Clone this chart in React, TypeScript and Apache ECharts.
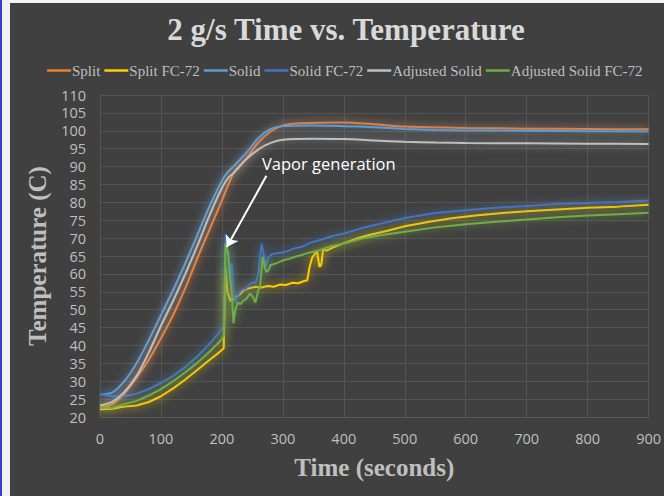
import React, { useEffect, useRef } from "react";
import * as echarts from "echarts";

const seriesNames = ["Split", "Split FC-72", "Solid", "Solid FC-72", "Adjusted Solid", "Adjusted Solid FC-72"];
const seriesColors = ["#ED7D31", "#FFCC00", "#5B9BD5", "#4472C4", "#BFBFBF", "#70AD47"];

const split: number[][] = [
  [0, 22.5], [20, 23.5], [40, 26.5], [60, 31], [80, 36], [100, 42], [120, 48.5], [140, 56], [160, 64.5],
  [180, 72.5], [200, 80.5], [220, 88.5], [240, 92.3], [260, 96.8], [280, 99.8], [300, 101.5], [330, 102.1],
  [400, 102.3], [450, 101.8], [500, 101.2], [600, 100.8], [700, 100.6], [800, 100.5], [900, 100.4],
];

const splitFC72: number[][] = [
  [0, 22.2], [20, 22.3], [40, 22.9], [60, 23.2], [80, 24.2], [100, 25.8], [120, 28], [140, 30.5], [160, 33.2],
  [180, 36], [195, 38], [203, 39.2], [206, 62], [209, 55], [214, 52.5], [218, 52.8], [222, 53.5], [228, 54],
  [236, 55.5], [245, 56], [255, 56.4], [265, 56.2], [275, 56.6], [285, 56.4], [295, 57], [305, 56.9],
  [315, 57.5], [325, 57.4], [335, 58], [340, 58.2], [344, 62], [348, 64.5], [352, 65.5], [356, 66.3],
  [360, 62], [363, 62.5], [366, 66.8], [372, 66.5], [380, 67.2], [390, 67.9], [400, 68.6], [420, 69.8],
  [440, 70.8], [470, 72], [500, 73.3], [540, 74.6], [580, 75.6], [620, 76.4], [660, 77], [700, 77.5],
  [750, 78], [800, 78.5], [850, 78.8], [900, 79.3],
];

const solid: number[][] = [
  [0, 26.3], [20, 26.8], [40, 30], [60, 35], [80, 41.5], [100, 48.5], [120, 55.5], [140, 63], [160, 71],
  [180, 79], [200, 86], [210, 88.5], [220, 90.2], [240, 93.8], [260, 98], [280, 100.5], [300, 101.3],
  [350, 101.5], [400, 101.3], [450, 101], [500, 100.5], [550, 100.2], [600, 100.1], [700, 100], [800, 99.9],
  [900, 99.8],
];

const solidFC72: number[][] = [
  [0, 26.3], [20, 25.8], [40, 25.8], [60, 26.5], [80, 27.8], [100, 29.5], [120, 31.5], [140, 34], [160, 37],
  [180, 40.5], [195, 43.5], [203, 45.5], [206, 71], [210, 65], [213, 58], [216, 63], [219, 55], [222, 52],
  [226, 54], [232, 55.5], [240, 56], [248, 57.5], [255, 57.5], [260, 60], [265, 68.5], [268, 66], [272, 62],
  [276, 64.5], [282, 65.5], [290, 65.8], [300, 66], [310, 66.5], [320, 67.2], [330, 67.5], [340, 68.3],
  [350, 69], [360, 69.4], [380, 70.5], [400, 71.3], [430, 72.8], [460, 74], [500, 75.6], [550, 77],
  [600, 77.8], [650, 78.5], [700, 79], [750, 79.5], [800, 79.8], [850, 80.1], [900, 80.5],
];

const adjustedSolid: number[][] = [
  [0, 23.2], [20, 24.2], [40, 27], [60, 31.5], [80, 38], [100, 45.5], [120, 52.5], [140, 60], [160, 68],
  [180, 76.5], [200, 84], [210, 86.8], [220, 88.3], [240, 92], [260, 94.8], [280, 96.6], [300, 97.5],
  [350, 97.8], [400, 97.7], [450, 97.3], [500, 96.9], [550, 96.7], [600, 96.6], [700, 96.5], [800, 96.4],
  [900, 96.3],
];

const adjustedSolidFC72: number[][] = [
  [0, 22.5], [20, 22.6], [40, 23.6], [60, 24.5], [80, 26], [100, 27.8], [120, 30], [140, 32.5], [160, 35.2],
  [180, 38.3], [195, 40.8], [203, 42.5], [206, 68.5], [210, 66], [213, 60], [216, 55], [219, 46.2], [222, 50],
  [226, 52], [230, 51.5], [235, 52.5], [240, 53], [246, 54.5], [250, 53.8], [255, 52], [259, 55], [263, 57],
  [267, 64.8], [270, 62], [273, 60.5], [276, 61], [280, 62.5], [290, 63], [300, 63.8], [310, 64.2],
  [320, 64.8], [330, 65.2], [340, 65.8], [350, 66.2], [360, 66.6], [380, 67.8], [400, 68.5], [430, 69.9],
  [460, 70.8], [500, 71.8], [550, 73], [600, 73.9], [650, 74.6], [700, 75.2], [750, 75.8], [800, 76.3],
  [850, 76.7], [900, 77.1],
];

const seriesData = [split, splitFC72, solid, solidFC72, adjustedSolid, adjustedSolidFC72];
const smoothFlags = [0.25, false, 0.25, false, 0.25, false];

const xTicks = { min: 0, max: 900, interval: 100 };
const yTicks = { min: 20, max: 110, interval: 5 };

const arrowFrom = [273, 87.4];
const arrowTo = [208, 67.5];
const annotation = "Vapor generation";

function hexToRgba(hex: string, a: number) {
  const h = hex.replace("#", "");
  const r = parseInt(h.slice(0, 2), 16);
  const g = parseInt(h.slice(2, 4), 16);
  const b = parseInt(h.slice(4, 6), 16);
  return `rgba(${r},${g},${b},${a})`;
}

export default function App() {
  const ref = useRef<HTMLDivElement>(null);

  useEffect(() => {
    document.body.style.margin = "0";
    if (!ref.current) return;
    const chart = echarts.init(ref.current, null, { renderer: "svg" });
    const serif = "'Liberation Serif', 'Times New Roman', serif";
    const sans = "'Open Sans', 'Noto Sans', sans-serif";

    const series: any[] = seriesNames.map((name, i) => ({
      name,
      type: "line",
      data: seriesData[i],
      showSymbol: false,
      symbol: "none",
      smooth: smoothFlags[i],
      lineStyle: {
        color: seriesColors[i],
        width: 2,
        shadowBlur: 10,
        shadowColor: hexToRgba(seriesColors[i], 0.9),
      },
      itemStyle: { color: seriesColors[i] },
      z: 2 + i,
    }));

    series[0].markLine = {
      silent: true,
      symbol: ["none", "arrow"],
      symbolSize: 11,
      label: { show: false },
      lineStyle: { color: "#FFFFFF", width: 2, type: "solid", shadowBlur: 0 },
      data: [[{ coord: arrowFrom }, { coord: arrowTo }]],
      z: 20,
    };

    chart.setOption({
      animation: false,
      backgroundColor: "#404040",
      title: {
        text: "2 g/s Time vs. Temperature",
        left: 331,
        textAlign: "center",
        top: 6,
        textStyle: { fontFamily: serif, fontWeight: "bold", fontSize: 31, color: "#D9D9D9" },
      },
      legend: {
        data: seriesNames,
        left: 32,
        top: 55,
        icon: "rect",
        itemWidth: 24,
        itemHeight: 2.5,
        itemGap: 4,
        textStyle: { fontFamily: serif, fontSize: 15, color: "#BFBFBF", padding: [0, 0, 0, -4] },
      },
      grid: { left: 90, right: 6, top: 92, bottom: 79, containLabel: false },
      xAxis: {
        type: "value",
        min: xTicks.min,
        max: xTicks.max,
        interval: xTicks.interval,
        name: "Time (seconds)",
        nameLocation: "middle",
        nameGap: 38,
        nameTextStyle: { fontFamily: serif, fontWeight: "bold", fontSize: 25, color: "#BFBFBF" },
        axisLine: { show: true, lineStyle: { color: "#5A5A5A" } },
        axisTick: { show: false },
        axisLabel: { fontFamily: sans, fontSize: 14.5, color: "#BFBFBF", margin: 14 },
        splitLine: { show: true, lineStyle: { color: "#545454", width: 1 } },
      },
      yAxis: {
        type: "value",
        min: yTicks.min,
        max: yTicks.max,
        interval: yTicks.interval,
        name: "Temperature (C)",
        nameLocation: "middle",
        nameGap: 48,
        nameTextStyle: { fontFamily: serif, fontWeight: "bold", fontSize: 25, color: "#BFBFBF" },
        axisLine: { show: false },
        axisTick: { show: false },
        axisLabel: { fontFamily: sans, fontSize: 14.5, color: "#BFBFBF", margin: 14 },
        splitLine: { show: true, lineStyle: { color: "#545454", width: 1 } },
      },
      graphic: [
        {
          type: "text",
          left: 252,
          top: 152,
          style: { text: annotation, fontFamily: sans, fontSize: 16.5, fill: "#FFFFFF" },
          z: 30,
        },
      ],
      series,
    });
    return () => chart.dispose();
  }, []);

  return (
    <div
      style={{
        position: "fixed",
        left: 0,
        top: 0,
        width: 664,
        height: 496,
        background: "#F2F2F2",
        borderLeft: "2px solid #3C3CD8",
        boxSizing: "border-box",
        overflow: "hidden",
      }}
    >
      <div ref={ref} style={{ position: "absolute", left: 8, top: 3, width: 654, height: 493 }} />
    </div>
  );
}
